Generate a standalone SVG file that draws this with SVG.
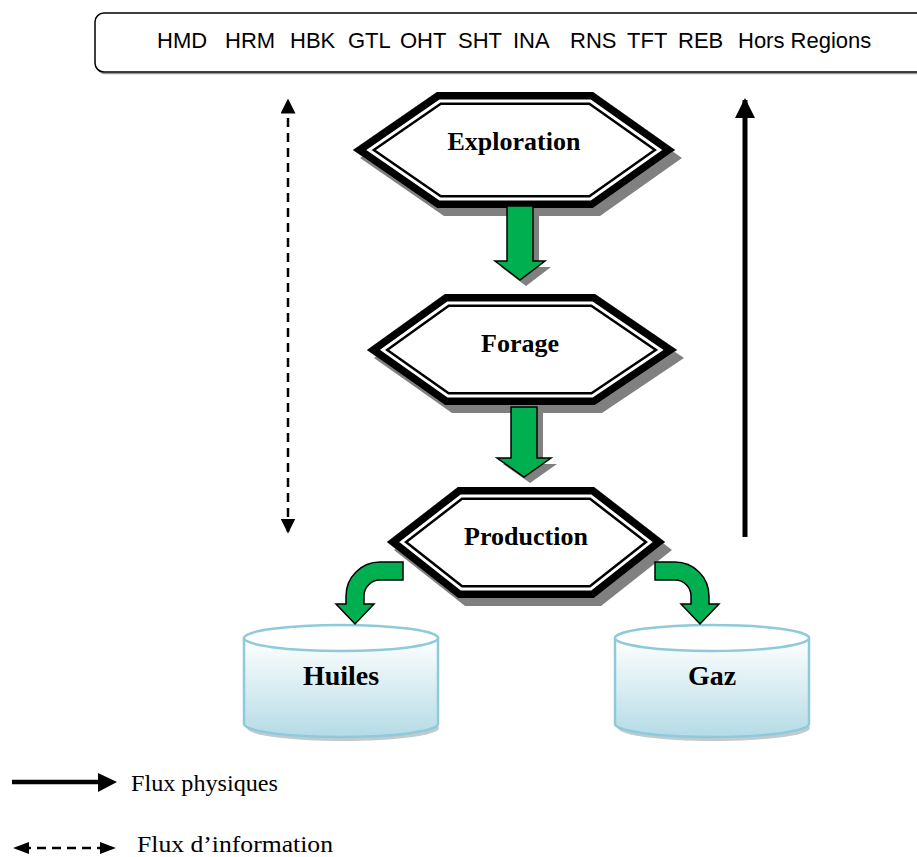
<svg xmlns="http://www.w3.org/2000/svg" width="917" height="857" viewBox="0 0 917 857">
<style>
.reg{font-family:"Liberation Sans",Arial,sans-serif;font-size:22px;fill:#000}
.hx{font-family:"Liberation Serif","Times New Roman",serif;font-size:26px;font-weight:bold;text-anchor:middle;fill:#000}
.cy{font-family:"Liberation Serif","Times New Roman",serif;font-size:28px;font-weight:bold;text-anchor:middle;fill:#000}
.lg{font-family:"Liberation Serif","Times New Roman",serif;font-size:24px;fill:#000}
.g{fill:#00b050;stroke:#000;stroke-width:1.5;stroke-linejoin:miter}
.sh{fill:#808080}
.cyl{fill:url(#cg);stroke:#8fcadb;stroke-width:2.5}
.top{fill:#ffffff;stroke:#8fcadb;stroke-width:2.5}
</style>
<defs>
<linearGradient id="cg" x1="0" y1="0" x2="0" y2="1">
<stop offset="0" stop-color="#ffffff"/>
<stop offset="1" stop-color="#b4dbe6"/>
</linearGradient>
<polygon id="h1" points="353,150 437,92 593,92 675,150 593,208 437,208"/>
<polygon id="h2" points="367,350 445,294 595,294 677,350 595,405 445,405"/>
<polygon id="h3" points="387,542 458,487 594,487 665,542 594,598 458,598"/>
<clipPath id="c1"><use href="#h1"/></clipPath>
<clipPath id="c2"><use href="#h2"/></clipPath>
<clipPath id="c3"><use href="#h3"/></clipPath>
<marker id="ah" viewBox="0 0 10 10" refX="9" refY="5" markerWidth="4" markerHeight="4" orient="auto-start-reverse"><path d="M0,0 L10,5 L0,10 Z" fill="#000"/></marker>
<marker id="ahd" viewBox="0 0 10 10" refX="9" refY="5" markerWidth="6" markerHeight="6" orient="auto-start-reverse"><path d="M0,0 L10,5 L0,10 Z" fill="#000"/></marker>
</defs>

<g id="regions">
<rect x="96.5" y="14.5" width="850" height="59" rx="9" fill="none" stroke="#9a9a9a" stroke-width="1.5"/>
<rect x="95" y="13" width="850" height="59" rx="9" fill="#fff" stroke="#000" stroke-width="1.5"/>
<text class="reg" y="48"><tspan x="157">HMD</tspan><tspan x="225">HRM</tspan><tspan x="290">HBK</tspan><tspan x="348">GTL</tspan><tspan x="400">OHT</tspan><tspan x="458">SHT</tspan><tspan x="513">INA</tspan><tspan x="570">RNS</tspan><tspan x="627">TFT</tspan><tspan x="678">REB</tspan><tspan x="738">Hors Regions</tspan></text>
</g>

<g id="exploration">
<use href="#h1" class="sh" transform="translate(7,8)"/>
<use href="#h1" fill="#fff"/>
<g clip-path="url(#c1)">
<use href="#h1" fill="none" stroke="#000" stroke-width="26"/>
<use href="#h1" fill="none" stroke="#fff" stroke-width="21"/>
<use href="#h1" fill="none" stroke="#000" stroke-width="15"/>
</g>
<text class="hx" x="514" y="150">Exploration</text>
</g>

<g id="forage">
<use href="#h2" class="sh" transform="translate(7,8)"/>
<use href="#h2" fill="#fff"/>
<g clip-path="url(#c2)">
<use href="#h2" fill="none" stroke="#000" stroke-width="26"/>
<use href="#h2" fill="none" stroke="#fff" stroke-width="21"/>
<use href="#h2" fill="none" stroke="#000" stroke-width="15"/>
</g>
<text class="hx" x="520" y="352">Forage</text>
</g>

<g id="production">
<use href="#h3" class="sh" transform="translate(7,8)"/>
<use href="#h3" fill="#fff"/>
<g clip-path="url(#c3)">
<use href="#h3" fill="none" stroke="#000" stroke-width="26"/>
<use href="#h3" fill="none" stroke="#fff" stroke-width="21"/>
<use href="#h3" fill="none" stroke="#000" stroke-width="15"/>
</g>
<text class="hx" x="526" y="545">Production</text>
</g>

<g id="huiles">
<ellipse cx="343" cy="728" rx="96" ry="13" fill="#9aa7ab" opacity="0.6"/>
<path class="cyl" d="M244,638 L244,724 A97,13 0 0 0 438,724 L438,638 Z"/>
<ellipse class="top" cx="341" cy="638" rx="97" ry="13"/>
<text class="cy" x="341" y="685">Huiles</text>
</g>

<g id="gaz">
<ellipse cx="714" cy="728" rx="96" ry="13" fill="#9aa7ab" opacity="0.6"/>
<path class="cyl" d="M615,638 L615,724 A97,13 0 0 0 809,724 L809,638 Z"/>
<ellipse class="top" cx="712" cy="638" rx="97" ry="13"/>
<text class="cy" x="712" y="685">Gaz</text>
</g>

<g id="connectors">
<path class="sh" d="M513,212 L539,212 L539,267 L551,267 L526,286 L501,267 L513,267 Z"/>
<path class="g" d="M507,206 L533,206 L533,261 L545,261 L520,280 L495,261 L507,261 Z"/>
<path class="sh" d="M517,413 L543,413 L543,464 L557,464 L530,483 L503,464 L517,464 Z"/>
<path class="g" d="M511,407 L537,407 L537,458 L551,458 L524,477 L497,458 L511,458 Z"/>
<path class="g" d="M403,562 L380,562 A34,34 0 0 0 346,596 L346,604 L336,604 L355,624 L374,604 L364,604 L364,596 A16,16 0 0 1 380,580 L403,580 Z"/>
<path class="g" d="M655,562 L675,562 A34,34 0 0 1 709,596 L709,604 L719,604 L700,624 L681,604 L691,604 L691,596 A16,16 0 0 0 675,580 L655,580 Z"/>
<line x1="288" y1="532" x2="288" y2="100" stroke="#000" stroke-width="2.5" stroke-dasharray="9,6" marker-start="url(#ahd)" marker-end="url(#ahd)"/>
<line x1="745" y1="537" x2="745" y2="100" stroke="#000" stroke-width="5" marker-end="url(#ah)"/>
</g>

<g id="legend">
<line x1="12" y1="782" x2="108" y2="782" stroke="#000" stroke-width="4.5"/>
<path d="M98,773 L117,782 L98,792 Z" fill="#000"/>
<text class="lg" x="131" y="791" textLength="147" lengthAdjust="spacingAndGlyphs">Flux physiques</text>
<line x1="22" y1="848" x2="106" y2="848" stroke="#000" stroke-width="2.5" stroke-dasharray="9,6"/>
<path d="M29,842 L13,848 L29,854 Z" fill="#000"/>
<path d="M100,842 L116,848 L100,854 Z" fill="#000"/>
<text class="lg" x="137" y="852" textLength="196" lengthAdjust="spacingAndGlyphs">Flux d’information</text>
</g>
</svg>
